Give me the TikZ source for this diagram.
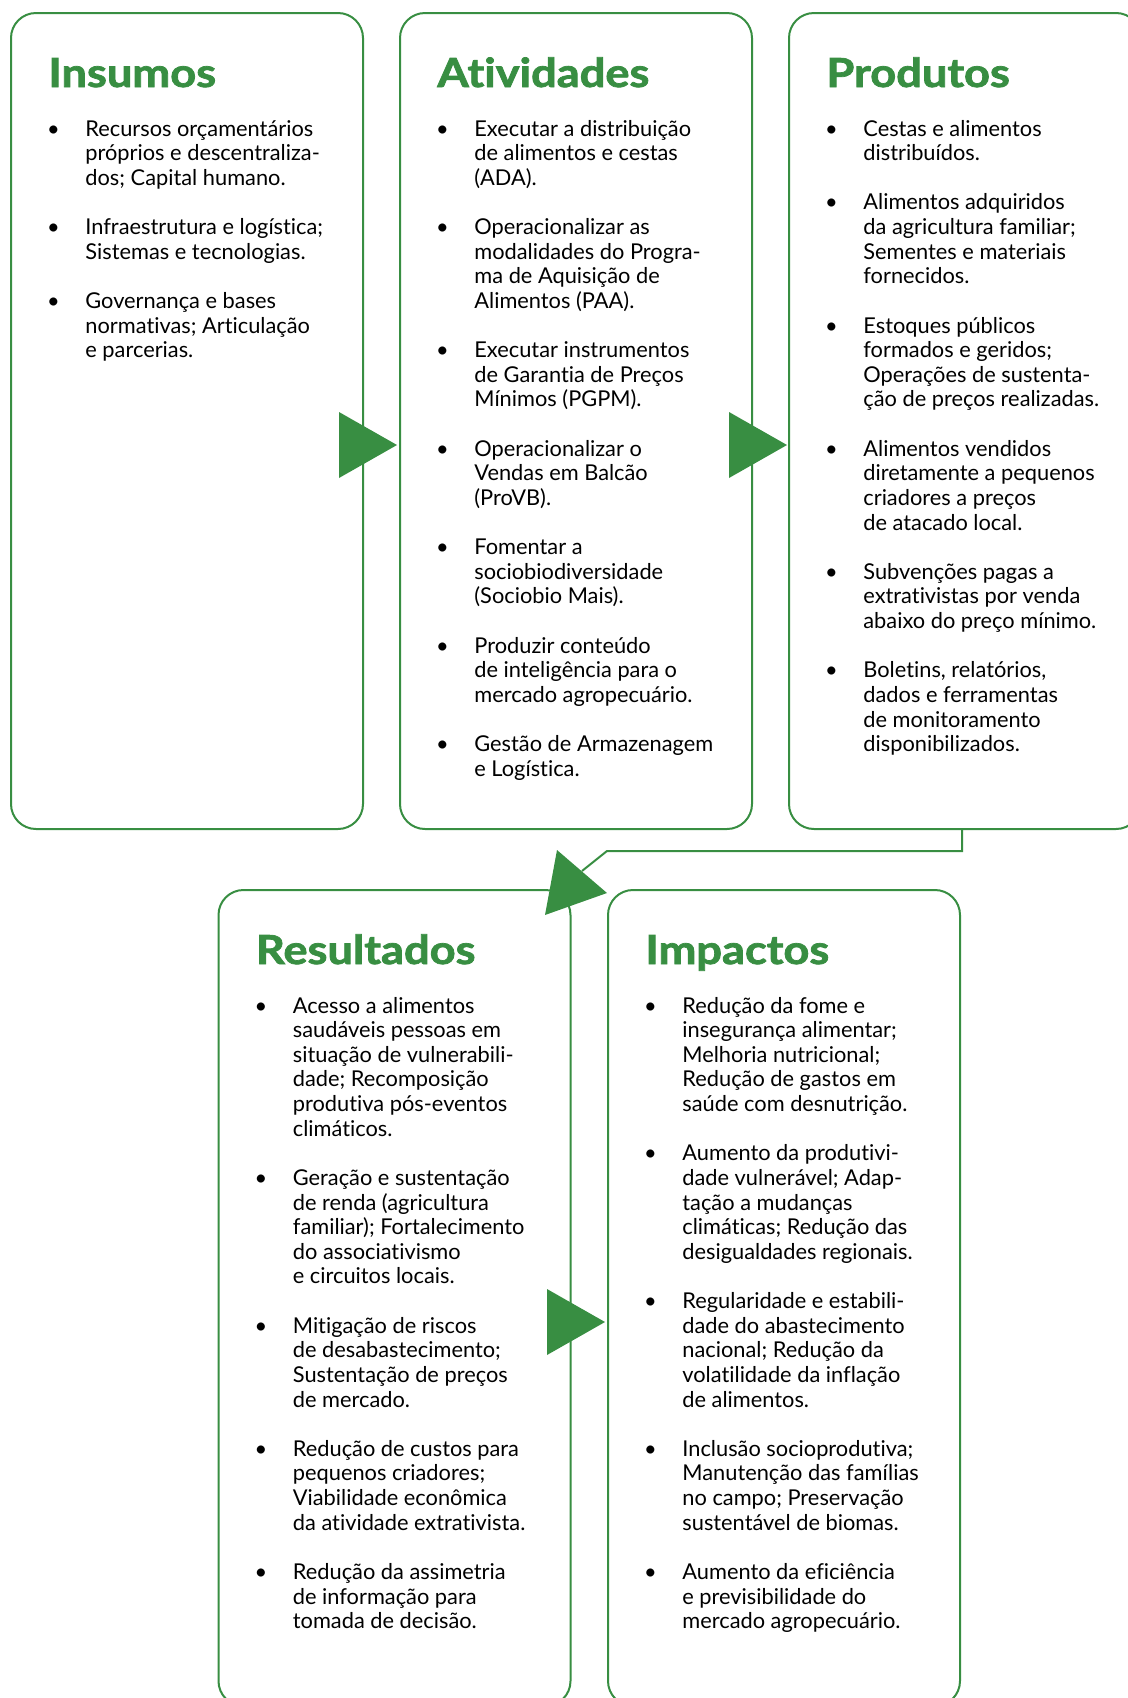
\documentclass[tikz,border=0pt]{standalone}
\usepackage{fontspec}
\setmainfont{Lato}[Ligatures=NoCommon]
\newfontfamily\hdfam{Lato}[Ligatures=NoCommon, BoldFeatures={FakeBold=1.8}]
\usetikzlibrary{calc}
\definecolor{gr}{HTML}{388E42}
\newcommand\bodyfont{\fontsize{10.9pt}{12.315pt}\selectfont}
\newcommand\bitem{\par\noindent\llap{\makebox[0pt]{\textbullet}\hspace{16pt}}}
\newcommand\blist[1]{\parbox[t]{200pt}{\bodyfont\raggedright\setlength\parskip{12.315pt}\setlength\parindent{0pt}#1}}
\newcommand\hdfont{\hdfam\fontsize{20pt}{22pt}\selectfont\bfseries\color{gr}}
\newcommand\hd[1]{\scalebox{1.13}[1]{#1}}
\tikzset{
  box/.style={draw=gr, line width=1pt, rounded corners=12.5pt, minimum width=176pt, minimum height=408pt, inner sep=0pt},
  head/.style={anchor=base west, inner sep=0pt, font=\hdfont},
  list/.style={anchor=base west, inner sep=0pt},
  tri/.style={fill=gr},
  conn/.style={draw=gr, line width=1pt}
}
\begin{document}
\begin{tikzpicture}[x=0.5pt,y=-0.5pt]
\useasboundingbox (0,0) rectangle (1128,1698);
\clip (0,0) rectangle (1128,1698);
% boxes
\node[box] (ins) at (187,421) {};
\node[box] (atv) at (576,421) {};
\node[box] (prod) at (965,421) {};
\node[box] (res) at (394.5,1298) {};
\node[box] (imp) at (784,1298) {};
% headings
\node[head] (hins) at ($(ins.north west)+(38,75)$) {\hd{Insumos}};
\node[head] (hatv) at ($(atv.north west)+(38,75)$) {\hd{Atividades}};
\node[head] (hprod) at ($(prod.north west)+(38,75)$) {\hd{Produtos}};
\node[head] (hres) at ($(res.north west)+(38,75)$) {\hd{Resultados}};
\node[head] (himp) at ($(imp.north west)+(38,75)$) {\hd{Impactos}};
% lists
\node[list] (lins) at ($(ins.north west)+(75,124)$) {\blist{%
\bitem Recursos orçamentários\\próprios e descentraliza-\\dos; Capital humano.
\bitem Infraestrutura e logística;\\Sistemas e tecnologias.
\bitem Governança e bases\\normativas; Articulação\\e parcerias.}};
\node[list] (latv) at ($(atv.north west)+(75,124)$) {\blist{%
\bitem Executar a distribuição\\de alimentos e cestas\\(ADA).
\bitem Operacionalizar as\\modalidades do Progra-\\ma de Aquisição de\\Alimentos (PAA).
\bitem Executar instrumentos\\de Garantia de Preços\\Mínimos (PGPM).
\bitem Operacionalizar o\\Vendas em Balcão\\(ProVB).
\bitem Fomentar a\\sociobiodiversidade\\(Sociobio Mais).
\bitem Produzir conteúdo\\de inteligência para o\\mercado agropecuário.
\bitem Gestão de Armazenagem\\e Logística.}};
\node[list] (lprod) at ($(prod.north west)+(75,124)$) {\blist{%
\bitem Cestas e alimentos\\distribuídos.
\bitem Alimentos adquiridos\\da agricultura familiar;\\Sementes e materiais\\fornecidos.
\bitem Estoques públicos\\formados e geridos;\\Operações de sustenta-\\ção de preços realizadas.
\bitem Alimentos vendidos\\diretamente a pequenos\\criadores a preços\\de atacado local.
\bitem Subvenções pagas a\\extrativistas por venda\\abaixo do preço mínimo.
\bitem Boletins, relatórios,\\dados e ferramentas\\de monitoramento\\disponibilizados.}};
\node[list] (lres) at ($(res.north west)+(75,124)$) {\blist{%
\bitem Acesso a alimentos\\saudáveis pessoas em\\situação de vulnerabili-\\dade; Recomposição\\produtiva pós-eventos\\climáticos.
\bitem Geração e sustentação\\de renda (agricultura\\familiar); Fortalecimento\\do associativismo\\e circuitos locais.
\bitem Mitigação de riscos\\de desabastecimento;\\Sustentação de preços\\de mercado.
\bitem Redução de custos para\\pequenos criadores;\\Viabilidade econômica\\da atividade extrativista.
\bitem Redução da assimetria\\de informação para\\tomada de decisão.}};
\node[list] (limp) at ($(imp.north west)+(75,124)$) {\blist{%
\bitem Redução da fome e\\insegurança alimentar;\\Melhoria nutricional;\\Redução de gastos em\\saúde com desnutrição.
\bitem Aumento da produtivi-\\dade vulnerável; Adap-\\tação a mudanças\\climáticas; Redução das\\desigualdades regionais.
\bitem Regularidade e estabili-\\dade do abastecimento\\nacional; Redução da\\volatilidade da inflação\\de alimentos.
\bitem Inclusão socioprodutiva;\\Manutenção das famílias\\no campo; Preservação\\sustentável de biomas.
\bitem Aumento da eficiência\\e previsibilidade do\\mercado agropecuário.}};
% connector from Produtos to Impactos
\coordinate (c0) at ($(prod.south)+(-3,0)$);
\coordinate (c1) at (607,851);
\coordinate (c2) at (582,871);
\draw[conn] (c0) |- (c1) -- (c2);
% arrow heads
\fill[tri] (339,412) -- (339,478) -- (397,445) -- cycle;
\fill[tri] (729,412) -- (729,478) -- (787,445) -- cycle;
\fill[tri] (547,1289) -- (547,1355) -- (605,1322) -- cycle;
\fill[tri] (557,850) -- (545,915) -- (607,893) -- cycle;
\end{tikzpicture}
\end{document}
